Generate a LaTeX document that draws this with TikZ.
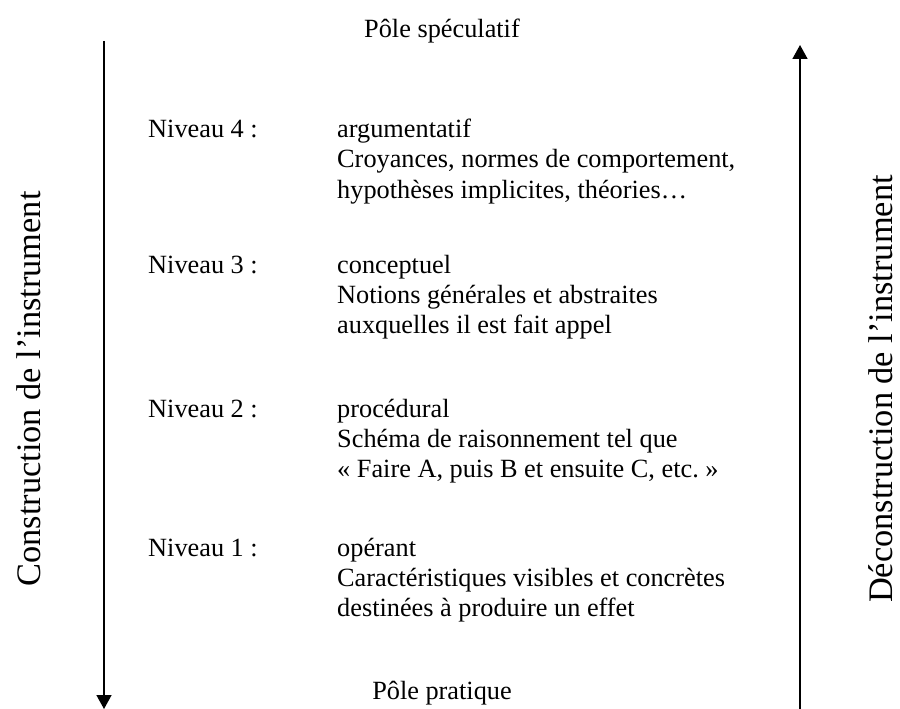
\documentclass[tikz,border=0pt]{standalone}
\usepackage{fontspec}
\setmainfont{Liberation Serif}
\usetikzlibrary{arrows.meta}
\begin{document}
\begin{tikzpicture}[x=1bp,y=-1bp,
  txt/.style={inner sep=0pt,anchor=base west,font=\fontsize{26.4}{30}\selectfont},
  pole/.style={inner sep=0pt,anchor=base,font=\fontsize{26.4}{30}\selectfont},
  side/.style={inner sep=0pt,rotate=90,anchor=base,font=\fontsize{34.5}{40}\selectfont},
  arr/.style={line width=1.6bp,-{Triangle[width=15bp,length=14bp]}}]
\useasboundingbox (0,0) rectangle (900,709);
% poles
\node[pole] (ps) at (442,38) {Pôle spéculatif};
\node[pole] (pp) at (442,699) {Pôle pratique};
% side labels
\node[side] (cons) at (40,389) {Construction de l’instrument};
\node[side] (decons) at (892,389) {Déconstruction de l’instrument};
% arrows
\coordinate (Ltop) at (104,41);
\coordinate (Lbot) at (104,709);
\coordinate (Rbot) at (800,709);
\coordinate (Rtop) at (800,45);
\draw[arr] (Ltop) -- (Lbot);
\draw[arr] (Rbot) -- (Rtop);
% level 4
\node[txt] (n4) at (148,138) {Niveau 4 :};
\node[txt] (n4a) at (337,138) {argumentatif};
\node[txt] (n4b) at (337,168) {Croyances, normes de comportement,};
\node[txt] (n4c) at (337,198) {hypothèses implicites, théories…};
% level 3
\node[txt] (n3) at (148,273) {Niveau 3 :};
\node[txt] (n3a) at (337,273) {conceptuel};
\node[txt] (n3b) at (337,303) {Notions générales et abstraites};
\node[txt] (n3c) at (337,333) {auxquelles il est fait appel};
% level 2
\node[txt] (n2) at (148,417) {Niveau 2 :};
\node[txt] (n2a) at (337,417) {procédural};
\node[txt] (n2b) at (337,447) {Schéma de raisonnement tel que};
\node[txt] (n2c) at (337,477) {«~Faire A, puis B et ensuite C, etc.~»};
% level 1
\node[txt] (n1) at (148,556) {Niveau 1 :};
\node[txt] (n1a) at (337,556) {opérant};
\node[txt] (n1b) at (337,586) {Caractéristiques visibles et concrètes};
\node[txt] (n1c) at (337,616) {destinées à produire un effet};
\end{tikzpicture}
\end{document}
